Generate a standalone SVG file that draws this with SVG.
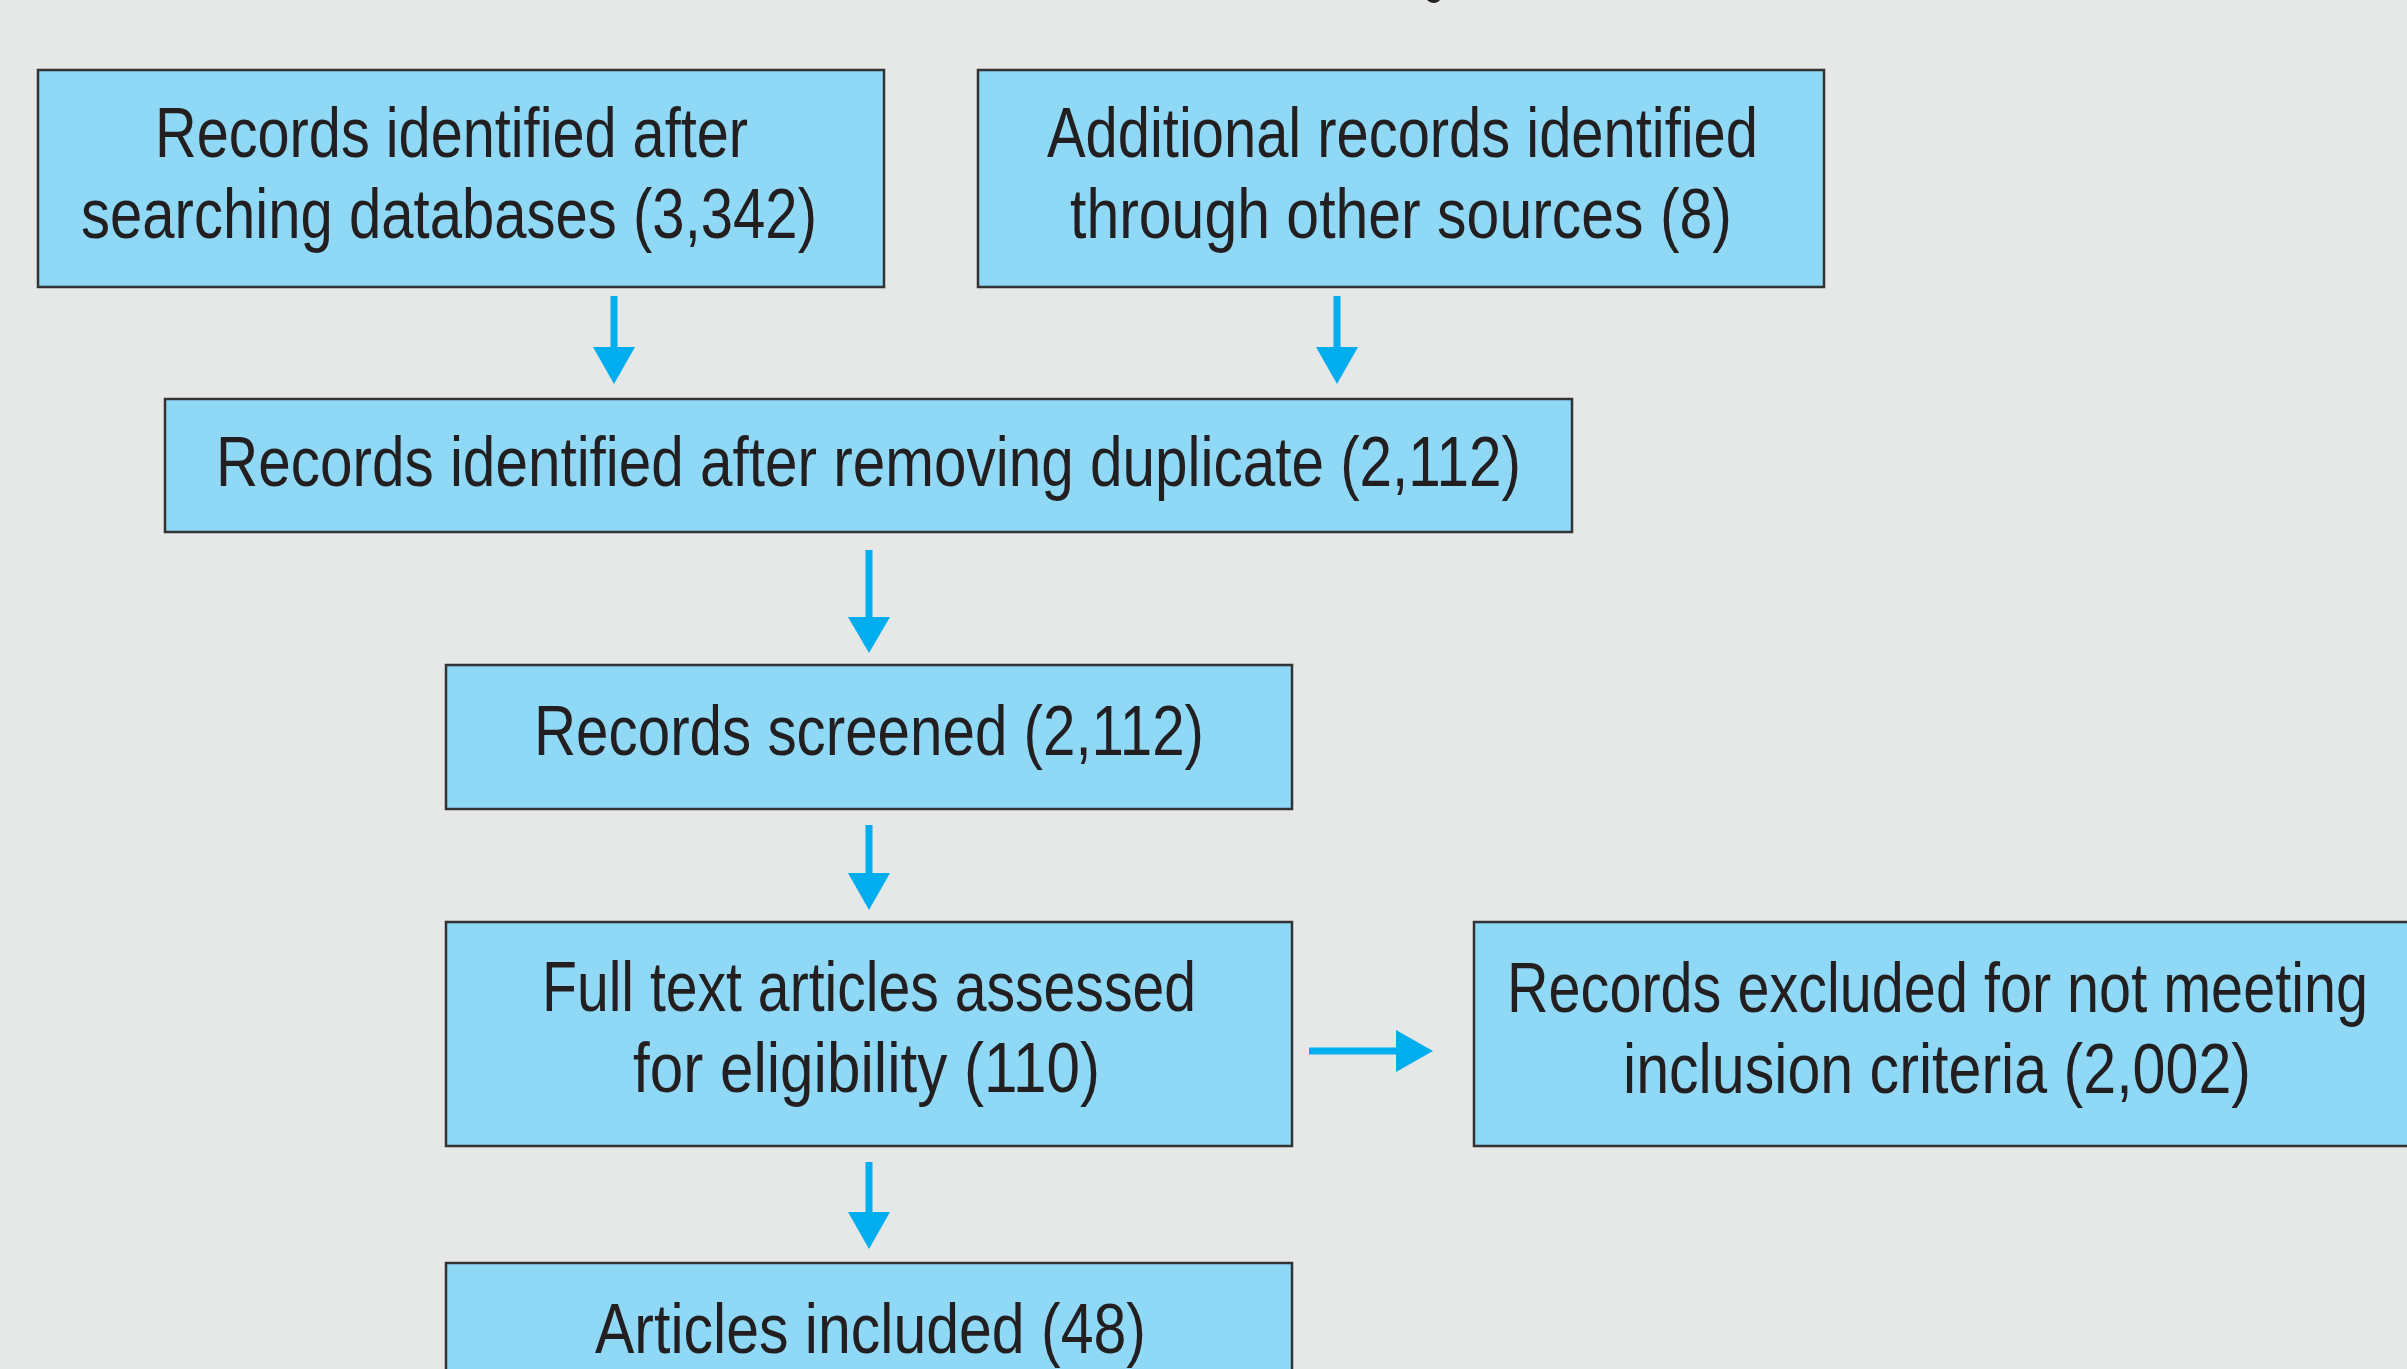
<svg xmlns="http://www.w3.org/2000/svg" width="2407" height="1369" viewBox="0 0 2407 1369">
<defs>
<style>
.bg{fill:#e6e8e7}
.box{fill:#8fd9f7;stroke:#333333;stroke-width:2.5}
.t{font-family:"Liberation Sans Narrow","Liberation Sans",Arial,sans-serif;font-size:70px;fill:#231f20}
.ln{stroke:#00aeef;stroke-width:7;fill:none}
.hd{fill:#00aeef}
</style>
</defs>
<rect class="bg" x="0" y="0" width="2407" height="1369"/>
<text class="t" x="1422" y="-12" textLength="24" lengthAdjust="spacingAndGlyphs">g</text>
<g id="n1">
<rect class="box" x="38" y="70" width="846" height="217"/>
<text class="t" x="155" y="157" textLength="593" lengthAdjust="spacingAndGlyphs">Records identified after</text>
<text class="t" x="81" y="238" textLength="736" lengthAdjust="spacingAndGlyphs">searching databases (3,342)</text>
</g>
<g id="n2">
<rect class="box" x="978" y="70" width="846" height="217"/>
<text class="t" x="1047" y="157" textLength="711" lengthAdjust="spacingAndGlyphs">Additional records identified</text>
<text class="t" x="1070" y="238" textLength="662" lengthAdjust="spacingAndGlyphs">through other sources (8)</text>
</g>
<g id="n3">
<rect class="box" x="165" y="399" width="1407" height="133"/>
<text class="t" x="216" y="486" textLength="1305" lengthAdjust="spacingAndGlyphs">Records identified after removing duplicate (2,112)</text>
</g>
<g id="n4">
<rect class="box" x="446" y="665" width="846" height="144"/>
<text class="t" x="534" y="755" textLength="670" lengthAdjust="spacingAndGlyphs">Records screened (2,112)</text>
</g>
<g id="n5">
<rect class="box" x="446" y="922" width="846" height="224"/>
<text class="t" x="542" y="1011" textLength="654" lengthAdjust="spacingAndGlyphs">Full text articles assessed</text>
<text class="t" x="633" y="1092" textLength="467" lengthAdjust="spacingAndGlyphs">for eligibility (110)</text>
</g>
<g id="n6">
<rect class="box" x="1474" y="922" width="945" height="224"/>
<text class="t" x="1507" y="1012" textLength="861" lengthAdjust="spacingAndGlyphs">Records excluded for not meeting</text>
<text class="t" x="1623" y="1093" textLength="628" lengthAdjust="spacingAndGlyphs">inclusion criteria (2,002)</text>
</g>
<g id="n7">
<rect class="box" x="446" y="1263" width="846" height="130"/>
<text class="t" x="595" y="1353" textLength="551" lengthAdjust="spacingAndGlyphs">Articles included (48)</text>
</g>
<g id="connectors">
<line class="ln" x1="614" y1="296" x2="614" y2="350"/>
<polygon class="hd" points="593,347 635,347 614,384"/>
<line class="ln" x1="1337" y1="296" x2="1337" y2="350"/>
<polygon class="hd" points="1316,347 1358,347 1337,384"/>
<line class="ln" x1="869" y1="550" x2="869" y2="620"/>
<polygon class="hd" points="848,617 890,617 869,653"/>
<line class="ln" x1="869" y1="825" x2="869" y2="876"/>
<polygon class="hd" points="848,873 890,873 869,910"/>
<line class="ln" x1="869" y1="1162" x2="869" y2="1215"/>
<polygon class="hd" points="848,1212 890,1212 869,1249"/>
<line class="ln" x1="1309" y1="1051" x2="1399" y2="1051"/>
<polygon class="hd" points="1396,1030 1396,1072 1433,1051"/>
</g>
</svg>
